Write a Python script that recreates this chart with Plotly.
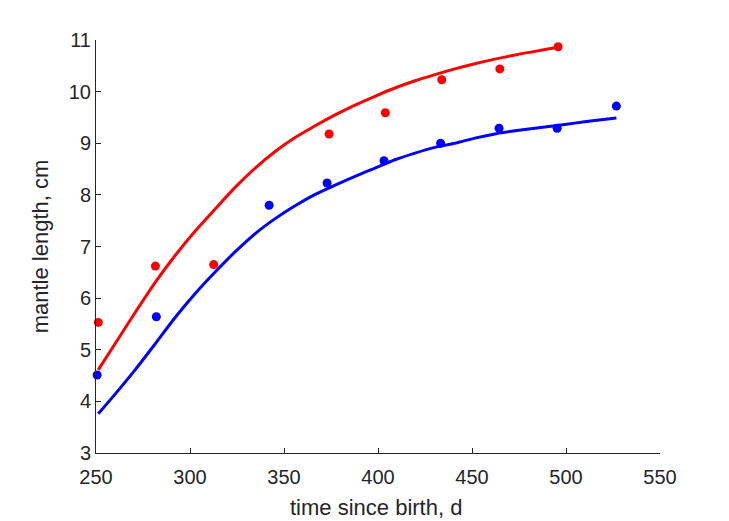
import plotly.graph_objects as go

# Observed data points
red_x = [251.2, 281.6, 312.6, 374.0, 403.9, 433.9, 464.8, 495.8]
red_y = [5.53, 6.62, 6.65, 9.18, 9.59, 10.23, 10.44, 10.87]
blue_x = [250.6, 282.1, 342.1, 372.9, 403.2, 433.3, 464.4, 495.3, 526.8]
blue_y = [4.51, 5.64, 7.80, 8.23, 8.66, 9.00, 9.29, 9.29, 9.72]

# Fitted curves
red_cx = [251.2, 260.4, 271.0, 281.6, 292.2, 302.8, 313.5, 324.1, 334.7, 345.3,
          355.9, 366.6, 377.2, 387.8, 398.4, 409.0, 419.7, 430.3, 440.9, 451.5,
          462.1, 472.8, 483.4, 494.0, 495.7]
red_cy = [4.61, 5.13, 5.73, 6.31, 6.83, 7.30, 7.73, 8.15, 8.52, 8.84,
          9.11, 9.34, 9.55, 9.74, 9.91, 10.07, 10.21, 10.33, 10.44, 10.54,
          10.63, 10.71, 10.78, 10.85, 10.86]
blue_cx = [251.2, 260.4, 271.0, 281.6, 292.2, 302.8, 313.5, 324.1, 334.7, 345.3,
           355.9, 366.6, 377.2, 387.8, 398.4, 409.0, 419.7, 430.3, 440.9, 451.5,
           462.1, 472.8, 483.4, 494.0, 504.6, 515.2, 526.8]
blue_cy = [3.76, 4.15, 4.62, 5.12, 5.63, 6.09, 6.51, 6.90, 7.25, 7.54,
           7.79, 8.01, 8.19, 8.36, 8.52, 8.68, 8.81, 8.92, 9.00, 9.10,
           9.18, 9.24, 9.29, 9.34, 9.39, 9.44, 9.49]

x_ticks = [250, 300, 350, 400, 450, 500, 550]
y_ticks = [3, 4, 5, 6, 7, 8, 9, 10, 11]
x_title = "time since birth, d"
y_title = "mantle length, cm"

RED = "#ff0000"
BLUE = "#0000ff"
AX = "#262626"
FONT = "Liberation Sans, Arial, sans-serif"

fig = go.Figure()
fig.add_trace(go.Scatter(x=red_cx, y=red_cy, mode="lines",
                         line=dict(color=RED, width=3, shape="spline", smoothing=0.8),
                         showlegend=False, cliponaxis=False))
fig.add_trace(go.Scatter(x=blue_cx, y=blue_cy, mode="lines",
                         line=dict(color=BLUE, width=3, shape="spline", smoothing=0.8),
                         showlegend=False, cliponaxis=False))
fig.add_trace(go.Scatter(x=red_x, y=red_y, mode="markers",
                         marker=dict(color=RED, size=9),
                         showlegend=False, cliponaxis=False))
fig.add_trace(go.Scatter(x=blue_x, y=blue_y, mode="markers",
                         marker=dict(color=BLUE, size=9),
                         showlegend=False, cliponaxis=False))

fig.update_layout(
    width=729, height=521,
    margin=dict(l=95.5, r=68.5, t=40, b=68),
    paper_bgcolor="white", plot_bgcolor="white",
    font=dict(family=FONT, color=AX, size=20),
)
fig.update_xaxes(
    range=[250, 550], tickvals=x_ticks, ticktext=[str(v) for v in x_ticks],
    showgrid=False, zeroline=False, showline=True, linecolor=AX, linewidth=1,
    ticks="inside", ticklen=5, tickcolor=AX, tickwidth=1,
    ticklabelstandoff=6, automargin=False,
)
fig.update_yaxes(
    range=[3, 11], tickvals=y_ticks, ticktext=[str(v) for v in y_ticks],
    showgrid=False, zeroline=False, showline=True, linecolor=AX, linewidth=1,
    ticks="inside", ticklen=5, tickcolor=AX, tickwidth=1,
    ticklabelstandoff=0, automargin=False,
    title=dict(text=y_title, font=dict(size=22, color=AX), standoff=14),
)
fig.add_annotation(
    text=x_title, xref="paper", yref="paper", x=0.497, y=0,
    xanchor="center", yanchor="middle", yshift=-54, showarrow=False,
    font=dict(size=22, color=AX, family=FONT),
)

fig.write_html(
    "out.html",
    config={"displayModeBar": False},
    post_script="document.body.style.margin='0';document.body.style.overflow='hidden';",
)
